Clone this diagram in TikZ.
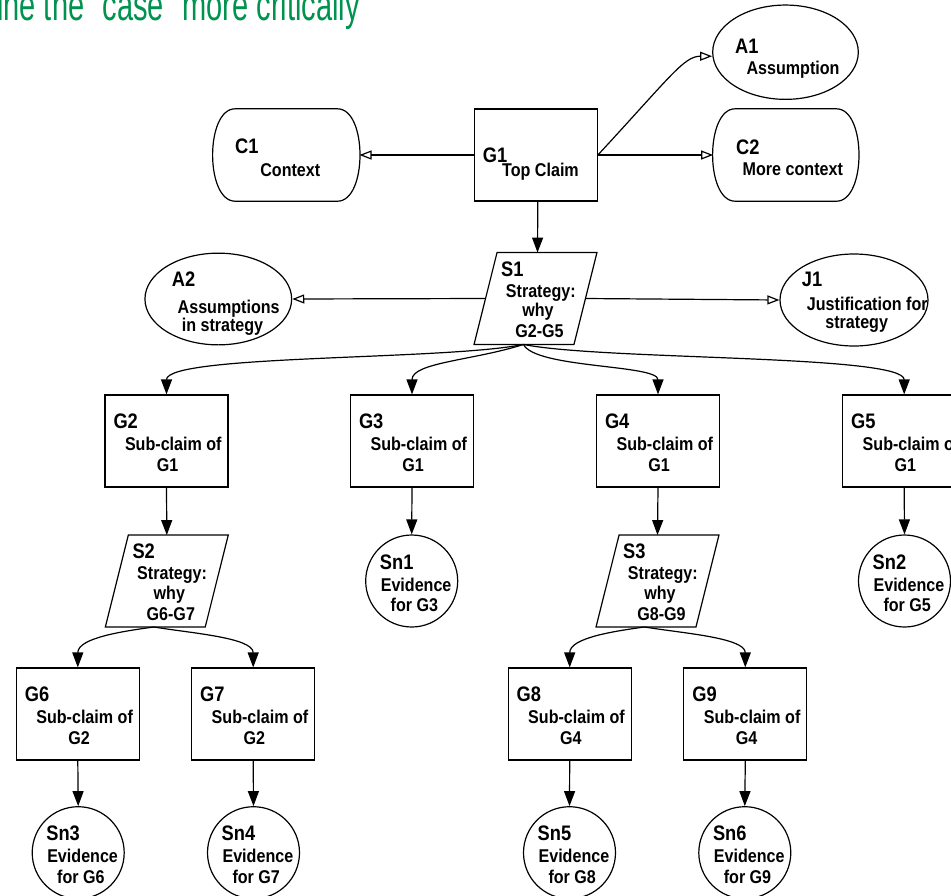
\documentclass[tikz,border=0pt]{standalone}
\usepackage{fontspec}
\usetikzlibrary{arrows.meta,shapes.geometric}
\newfontfamily\gsnfont[FakeStretch=0.87]{Liberation Sans}
\newfontfamily\headfont[FakeStretch=0.66]{Liberation Sans}
\definecolor{headgreen}{RGB}{0,146,79}

\tikzset{
  shapeline/.style={line width=1.2pt},
  goalbox/.style={draw, shapeline, rectangle, minimum width=123pt, minimum height=92pt, inner sep=0pt},
  ctxbox/.style={rectangle, minimum width=146pt, minimum height=92pt, inner sep=0pt},
  stratbox/.style={rectangle, minimum width=99.5pt, minimum height=91.5pt, inner sep=0pt},
  asmbox/.style={draw, shapeline, ellipse, inner sep=0pt},
  evbox/.style={draw, shapeline, circle, minimum size=92pt, inner sep=0pt},
  idtext/.style={inner sep=0pt, font=\gsnfont\bfseries\fontsize{21}{24}\selectfont},
  bodytext/.style={inner sep=0pt, font=\gsnfont\bfseries\fontsize{18.5}{22}\selectfont},
  headtext/.style={inner sep=0pt, text=headgreen, font=\headfont\fontsize{44}{48}\selectfont},
  supports/.style={line width=1.2pt, -{Triangle[length=15pt,width=11pt]}},
  incontext/.style={line width=1.2pt, -{Triangle[open,length=12pt,width=9pt]}},
}

% identifier label (left aligned) and centred text lines, placed from a node's centre
\newcommand{\gsnid}[4]{\node[idtext, anchor=base west] (#1-id) at ([shift={(#2,#3)}]#1.center) {#4};}
\newcommand{\gsnline}[5]{\node[bodytext, anchor=base] (#1-#2) at ([shift={(#3,#4)}]#1.center) {#5};}

\begin{document}
\begin{tikzpicture}[x=1pt,y=-1pt]
\useasboundingbox (0,0) rectangle (951,895);

% heading
\node[headtext, anchor=base west] (head) at (-3,20.7) {ine the "case" more critically};

% top level
\node[goalbox] (G1) at (535.8,155) {};
\gsnid{G1}{-53.1}{7.3}{G1}
\gsnline{G1}{l1}{4.7}{21}{Top Claim}

\node[ctxbox] (C1) at (286.3,155) {};
\gsnid{C1}{-51.3}{-1.7}{C1}
\gsnline{C1}{l1}{4}{21}{Context}

\node[ctxbox, minimum width=145pt] (C2) at (785.8,155) {};
\gsnid{C2}{-49.8}{-1}{C2}
\gsnline{C2}{l1}{7}{20}{More context}

\node[asmbox, minimum width=145.6pt, minimum height=94.3pt] (A1) at (785.5,52.2) {};
\gsnid{A1}{-50.5}{1.1}{A1}
\gsnline{A1}{l1}{7.5}{21.8}{Assumption}

% context outlines: flat top and bottom, bulging sides
\foreach \n in {C1,C2}
  \draw[shapeline] ([xshift=22pt]\n.north west) -- ([xshift=-22pt]\n.north east)
    .. controls ([xshift=8pt]\n.north east) and ([xshift=8pt]\n.south east) .. ([xshift=-22pt]\n.south east)
    -- ([xshift=22pt]\n.south west)
    .. controls ([xshift=-8pt]\n.south west) and ([xshift=-8pt]\n.north west) .. cycle;

% strategies
\foreach \n/\x/\y/\rng in {S1/535.5/298.5/G2-G5, S2/166.8/581/G6-G7, S3/657.5/581/G8-G9} {
  \node[stratbox] (\n) at (\x,\y) {};
  \draw[shapeline] ([xshift=11.5pt]\n.north west) -- ([xshift=11.5pt]\n.north east)
    -- ([xshift=-11.5pt]\n.south east) -- ([xshift=-11.5pt]\n.south west) -- cycle;
  \gsnid{\n}{-34.5}{-22.5}{\n}
  \gsnline{\n}{l1}{5.3}{-1.5}{Strategy:}
  \gsnline{\n}{l2}{2.5}{18}{why}
  \gsnline{\n}{l3}{4}{39}{\rng}
}

\node[asmbox, minimum width=146.7pt, minimum height=91.7pt] (A2) at (218.3,299) {};
\gsnid{A2}{-46.6}{-12.3}{A2}
\gsnline{A2}{l1}{10.4}{14.3}{Assumptions}
\gsnline{A2}{l2}{4.2}{32.7}{in strategy}

\node[asmbox, minimum width=148pt, minimum height=92pt] (J1) at (854,300) {};
\gsnid{J1}{-52.3}{-13.3}{J1}
\gsnline{J1}{l1}{13.3}{10}{Justification for}
\gsnline{J1}{l2}{2.7}{28}{strategy}

% sub-claims
\foreach \n/\x/\y/\ofclaim in {G2/166.5/441/G1, G3/412/441/G1, G4/658/441/G1, G5/904.2/441/G1,
                           G6/77.8/714/G2, G7/253.2/714/G2, G8/569.7/714/G4, G9/745.3/714/G4} {
  \node[goalbox] (\n) at (\x,\y) {};
  \gsnid{\n}{-53.2}{-12.6}{\n}
  \gsnline{\n}{l1}{6.8}{9}{Sub-claim of}
  \gsnline{\n}{l2}{1.2}{30.7}{\ofclaim}
}

% evidence
\foreach \n/\x/\y/\g in {Sn1/411.7/581/G3, Sn2/904.5/581/G5, Sn3/78.2/852.7/G6,
                         Sn4/253.5/852.7/G7, Sn5/569.5/852.7/G8, Sn6/744.8/852.7/G9} {
  \node[evbox] (\n) at (\x,\y) {};
  \gsnid{\n}{-32}{-12}{\n}
  \gsnline{\n}{l1}{4.4}{10}{Evidence}
  \gsnline{\n}{l2}{2.7}{30.6}{for \g}
}

% in-context-of links
\draw[incontext] (G1.west) -- (C1.east);
\draw[incontext] (G1.east) -- (C2.west);
\draw[incontext] (G1.east) .. controls +(73,-79) and +(-28,0) .. ([yshift=-4pt]A1.west);
\draw[incontext] (S1.west) -- (A2.east);
\draw[incontext] (S1.east) -- (J1.west);

% supported-by links
\draw[supports] ([xshift=2pt]G1.south) -- ([xshift=2pt]S1.north);
\draw[supports] ([xshift=-12pt]S1.south) .. controls +(-80,16) and +(0,-40) .. (G2.north);
\draw[supports] ([xshift=-12pt]S1.south) .. controls +(-50,16) and +(0,-32) .. (G3.north);
\draw[supports] ([xshift=-12pt]S1.south) .. controls +(12,24) and +(0,-30) .. (G4.north);
\draw[supports] ([xshift=-12pt]S1.south) .. controls +(80,16) and +(0,-40) .. (G5.north);

\draw[supports] (G2.south) -- (S2.north);
\draw[supports] (G3.south) -- (Sn1.north);
\draw[supports] (G4.south) -- (S3.north);
\draw[supports] (G5.south) -- (Sn2.north);

\draw[supports] ([xshift=-13pt]S2.south) .. controls +(-28,4) and +(0,-30) .. (G6.north);
\draw[supports] ([xshift=-13pt]S2.south) .. controls +(35,6) and +(0,-30) .. (G7.north);
\draw[supports] ([xshift=-13pt]S3.south) .. controls +(-28,4) and +(0,-30) .. (G8.north);
\draw[supports] ([xshift=-13pt]S3.south) .. controls +(35,6) and +(0,-30) .. (G9.north);

\draw[supports] (G6.south) -- (Sn3.north);
\draw[supports] (G7.south) -- (Sn4.north);
\draw[supports] (G8.south) -- (Sn5.north);
\draw[supports] (G9.south) -- (Sn6.north);
\end{tikzpicture}
\end{document}
